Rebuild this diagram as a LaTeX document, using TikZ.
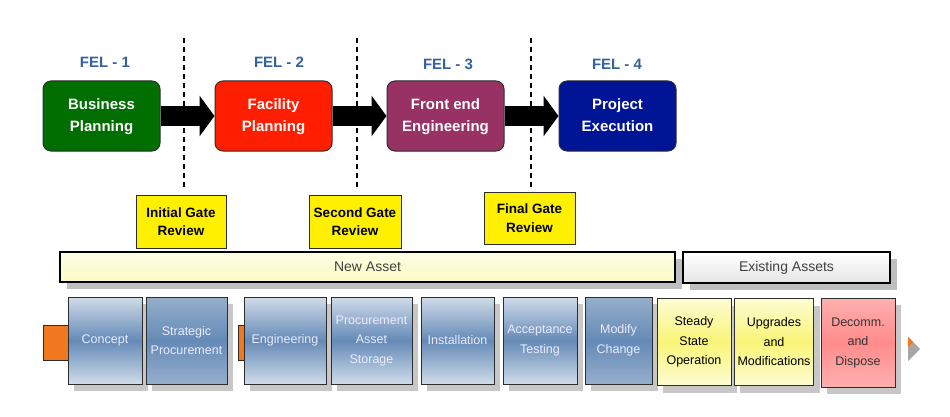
\documentclass[tikz,border=0pt]{standalone}
\usepackage{fontspec}
\setmainfont{Liberation Sans}
\usetikzlibrary{arrows.meta,shadows}
\definecolor{felblue}{RGB}{52,98,160}
\definecolor{bpgreen}{RGB}{0,110,0}
\definecolor{fpred}{RGB}{255,30,0}
\definecolor{femaroon}{RGB}{152,50,100}
\definecolor{penavy}{RGB}{0,20,150}
\definecolor{gateyellow}{RGB}{255,240,0}
\definecolor{bluelight}{RGB}{208,220,234}
\definecolor{bluemid}{RGB}{100,138,182}
\definecolor{bluedark}{RGB}{150,174,204}
\definecolor{yellight}{RGB}{252,252,210}
\definecolor{yelmid}{RGB}{250,245,120}
\definecolor{pinklight}{RGB}{255,175,175}
\definecolor{pinkmid}{RGB}{255,140,140}
\definecolor{orangebox}{RGB}{240,120,30}
\definecolor{boxedge}{RGB}{45,45,45}
\newcommand{\twoline}[2]{\raisebox{-3pt}{\begin{tabular}{@{}c@{}}#1\\#2\end{tabular}}}
\begin{document}
\begin{tikzpicture}[x=1pt,y=-1pt,
  fel/.style={text=felblue,font=\fontsize{15}{18}\selectfont\bfseries},
  felbox/.style={draw=boxedge,line width=1pt,rounded corners=8pt,minimum width=117pt,minimum height=70pt,
    text=white,align=center,font=\fontsize{15}{21.5}\selectfont\bfseries},
  gatebox/.style={draw=boxedge,line width=0.9pt,fill=gateyellow,minimum height=53pt,align=center,
    font=\fontsize{13.5}{18.5}\selectfont\bfseries},
  fatarrow/.style={line width=20pt,-{Triangle[length=15pt,width=40pt]}},
  gateline/.style={dashed,line width=1.4pt,dash pattern=on 5pt off 4pt},
  bar/.style={draw=black,line width=2.5pt,font=\fontsize{14}{16}\selectfont,text=black!75,
    drop shadow={shadow xshift=7pt,shadow yshift=-7pt,fill=black!25,opacity=1}},
  stage/.style={draw=boxedge,line width=0.8pt,minimum height=87pt,align=center,
    font=\fontsize{12.5}{19.5}\selectfont,
    drop shadow={shadow xshift=6pt,shadow yshift=-7pt,fill=black!22,opacity=1}},
  bluestage/.style={stage,top color=bluelight,bottom color=bluelight,middle color=bluemid,text=white!92!blue},
  darkstage/.style={stage,top color=bluedark,bottom color=bluedark,middle color=bluemid,text=white!92!blue},
  yelstage/.style={stage,top color=yellight,bottom color=yellight,middle color=yelmid,text=black},
  pinkstage/.style={stage,top color=pinklight,bottom color=pinklight,middle color=pinkmid,text=black!80}
]
\useasboundingbox (0,0) rectangle (950,417);
\fill[white] (0,0) rectangle (950,417);

% gate dashed lines
\coordinate (g1t) at (184,38); \coordinate (g1b) at (184,189);
\coordinate (g2t) at (357,38); \coordinate (g2b) at (357,189);
\coordinate (g3t) at (531,38); \coordinate (g3b) at (531,189);
\draw[gateline] (g1t) -- (g1b);
\draw[gateline] (g2t) -- (g2b);
\draw[gateline] (g3t) -- (g3b);

% FEL labels
\node[fel] (f1) at (105,62) {FEL - 1};
\node[fel] (f2) at (279,62) {FEL - 2};
\node[fel] (f3) at (448,64) {FEL - 3};
\node[fel] (f4) at (617,64) {FEL - 4};

% phase boxes
\node[felbox,fill=bpgreen] (bp) at (101.5,116) {\twoline{Business}{Planning}};
\node[felbox,fill=fpred] (fp) at (273.5,116) {\twoline{Facility}{Planning}};
\node[felbox,fill=femaroon] (fe) at (445.5,116) {\twoline{Front end}{Engineering}};
\node[felbox,fill=penavy] (pe) at (617.5,116) {\twoline{Project}{Execution}};

\draw[fatarrow] (bp.east) -- (fp.west);
\draw[fatarrow] (fp.east) -- (fe.west);
\draw[fatarrow] (fe.east) -- (pe.west);

% gate reviews
\node[gatebox,minimum width=90pt] (ig) at (181,221.5) {Initial Gate\\Review};
\node[gatebox,minimum width=92pt] (sg) at (355,221.5) {Second Gate\\Review};
\node[gatebox,minimum width=91pt,minimum height=52pt] (fg) at (529.5,218) {Final Gate\\Review};

% asset bars
\node[bar,minimum width=615pt,minimum height=30pt,top color=yellight!60!white,bottom color=yellight!85!yelmid] (na) at (367.5,267) {New Asset};
\node[bar,minimum width=207pt,minimum height=31pt,top color=white,bottom color=black!10] (ea) at (786.5,267.5) {Existing Assets};

% orange tabs
\node[draw=boxedge,line width=0.8pt,fill=orangebox,minimum width=25pt,minimum height=35pt] (or1) at (55.5,342.5) {};
\node[draw=boxedge,line width=0.6pt,fill=orangebox,minimum width=4pt,minimum height=35pt] (or2) at (242,342.5) {};

% lifecycle stages
\node[bluestage,minimum width=74pt] (c1) at (105,340.5) {Concept};
\node[darkstage,minimum width=81pt] (c2) at (186.5,340.5) {Strategic\\Procurement};
\node[bluestage,minimum width=82pt] (c3) at (285,340.5) {Engineering};
\node[bluestage,minimum width=81pt] (c4) at (371.5,340.5) {Procurement\\Asset\\Storage};
\node[bluestage,minimum width=73pt] (c5) at (457.5,340.5) {Installation};
\node[bluestage,minimum width=74pt] (c6) at (540,340.5) {Acceptance\\Testing};
\node[darkstage,minimum width=67pt] (c7) at (618.5,340.5) {Modify\\Change};
\node[yelstage,minimum width=74pt] (c8) at (694,342) {Steady\\State\\Operation};
\node[yelstage,minimum width=76pt] (c9) at (774,342) {Upgrades\\and\\Modifications};
\node[pinkstage,minimum width=74pt,minimum height=89pt] (c10) at (858,342.5) {Decomm.\\and\\Dispose};

% end marker
\coordinate (t1) at (908,337); \coordinate (t2) at (920,349); \coordinate (t3) at (908,361);
\fill[black!35] (t1) -- (t2) -- (t3) -- cycle;
\fill[orangebox] (t1) -- (913,342) -- (908,347) -- cycle;
\end{tikzpicture}
\end{document}
